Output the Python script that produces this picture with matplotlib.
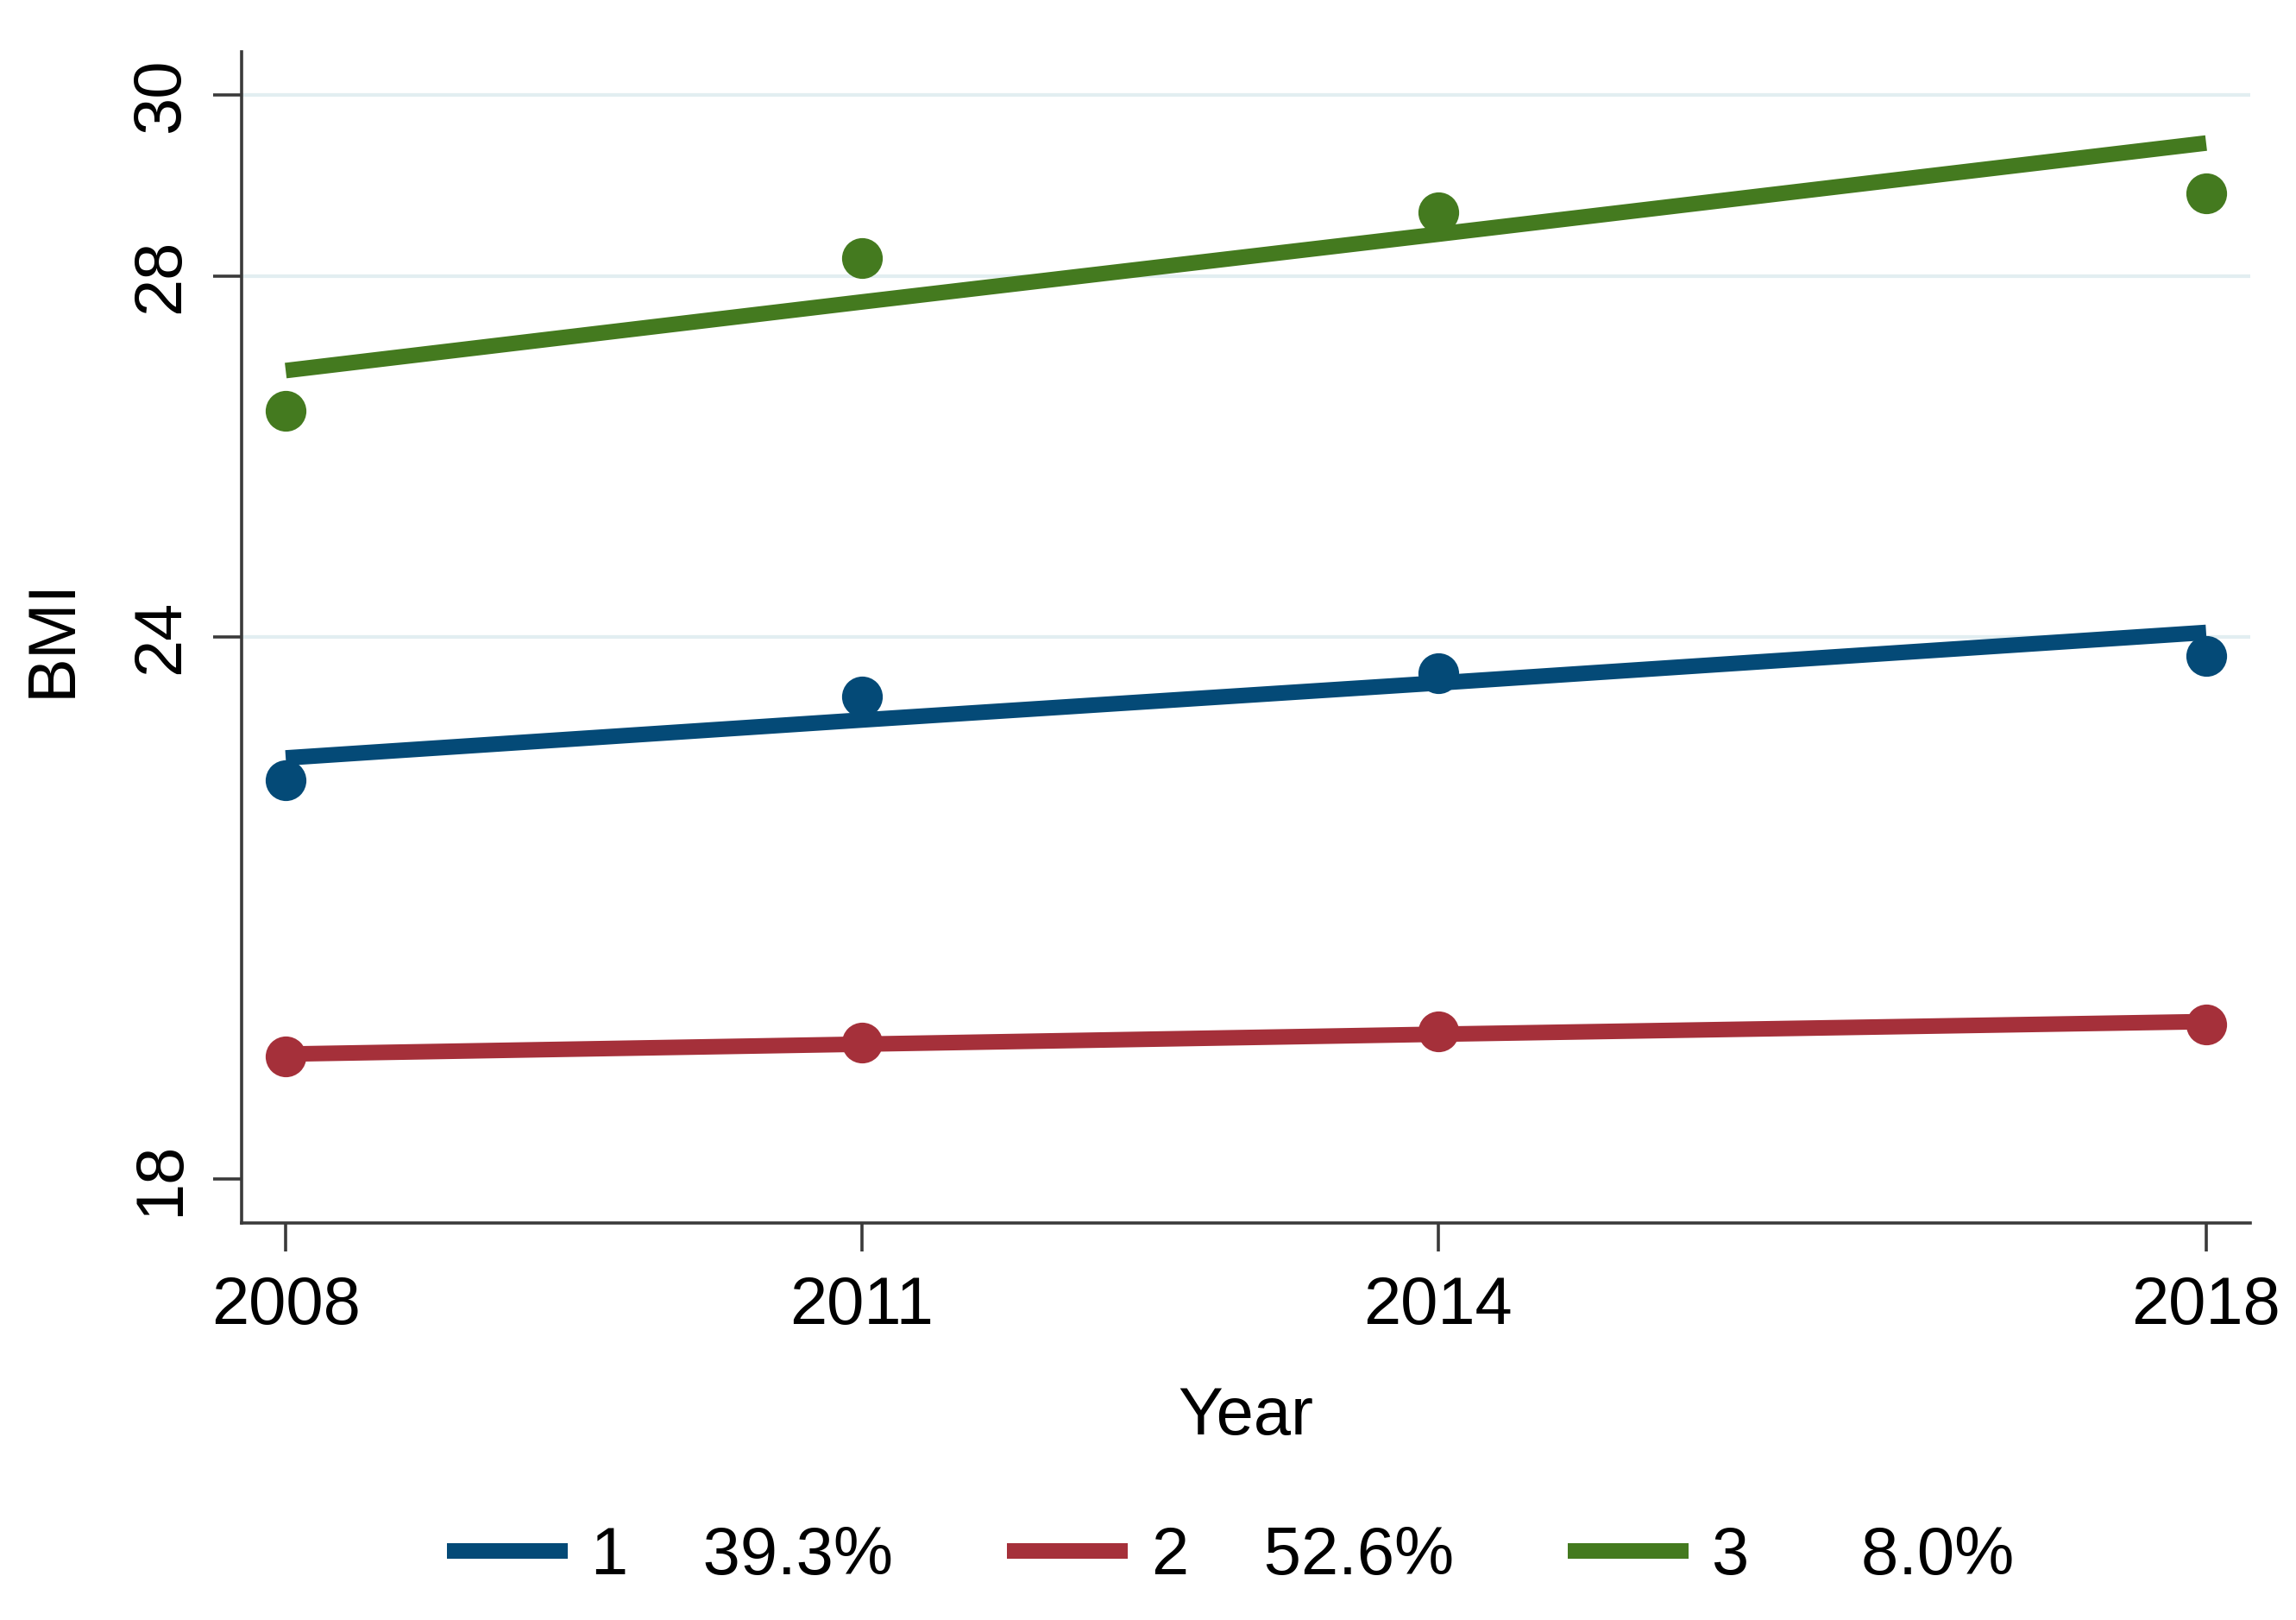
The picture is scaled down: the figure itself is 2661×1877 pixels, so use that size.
import matplotlib
matplotlib.use("Agg")
import matplotlib.pyplot as plt

plt.rcParams['font.family'] = ['Liberation Sans', 'DejaVu Sans']

# ---- data ----
years = [2008, 2011, 2014, 2018]
groups = ['1', '2', '3']
shares = ['39.3%', '52.6%', '8.0%']
obs_1 = [22.41, 23.34, 23.60, 23.79]
obs_2 = [19.35, 19.51, 19.63, 19.71]
obs_3 = [26.50, 28.20, 28.70, 28.91]
fit_1 = [22.66, 23.08, 23.49, 24.05]
fit_2 = [19.38, 19.49, 19.60, 19.74]
fit_3 = [26.95, 27.71, 28.46, 29.47]
yticks = [18, 24, 28, 30]

colors = ['#044a77', '#a5303a', '#447a1f']
obs = [obs_1, obs_2, obs_3]
fits = [fit_1, fit_2, fit_3]
labels = ['1    39.3%', '2    52.6%', '3      8.0%']

fig = plt.figure(figsize=(26.61, 18.77), dpi=100)
ax = fig.add_axes([0.1052, 0.2451, 0.8749, 0.7229])

handles = []
for o, f, c, lab in zip(obs, fits, colors, labels):
    ax.plot(years, o, 'o', color=c, markersize=34, markeredgewidth=0, zorder=3)
    h, = ax.plot(years, f, '-', color=c, linewidth=13, solid_capstyle='butt', zorder=3, label=lab)
    handles.append(h)

ax.set_xlim(2007.77, 2018.23)
ax.set_ylim(17.51, 30.48)
ax.set_xticks(years)
ax.set_xticklabels([str(y) for y in years])
ax.set_yticks(yticks)
ax.set_yticklabels([str(v) for v in yticks])

for s in ['top', 'right']:
    ax.spines[s].set_visible(False)
for s in ['left', 'bottom']:
    ax.spines[s].set_linewidth(2.6)
    ax.spines[s].set_color('#3a3a3a')

ax.tick_params(axis='both', which='major', length=24, width=2.6, color='#3a3a3a',
               labelsize=56, labelcolor='black')
ax.tick_params(axis='x', pad=19)
ax.tick_params(axis='y', pad=17, labelrotation=90)
for t in ax.get_yticklabels():
    t.set_verticalalignment('center')

ax.grid(axis='y', color='#e2eef1', linewidth=3, zorder=0)
ax.yaxis.get_gridlines()[0].set_visible(False)
ax.set_axisbelow(True)

ax.set_xlabel('Year', fontsize=56, labelpad=40)
ax.set_ylabel('BMI', fontsize=56, labelpad=38)

fig.legend(handles=handles, labels=labels, loc='center', bbox_to_anchor=(0.536, 0.039),
           ncol=3, frameon=False, fontsize=56, handlelength=1.8, handletextpad=0.35,
           columnspacing=1.7)

fig.savefig('out.png', dpi=100, facecolor='white')
